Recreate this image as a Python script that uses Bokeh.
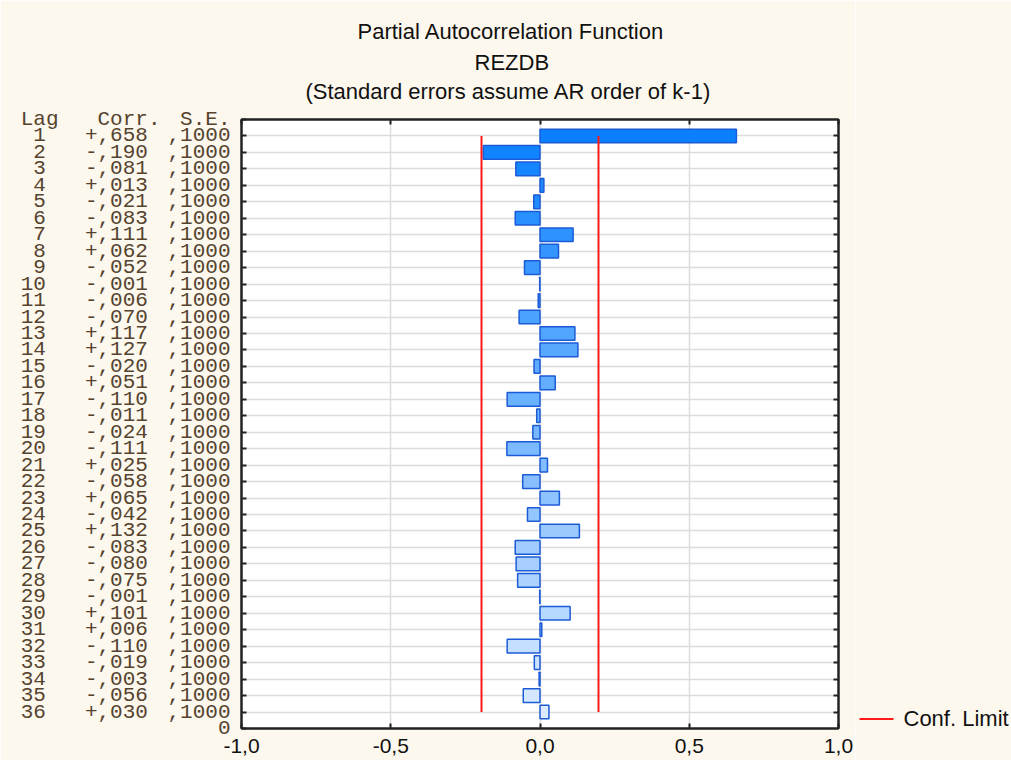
from bokeh.plotting import figure
from bokeh.models import (Range1d, LinearAxis, FixedTicker, ColumnDataSource, Title)
from bokeh.core.properties import value
from bokeh.layouts import row
from bokeh.embed import file_html
from bokeh.resources import INLINE

# ---------------- data ----------------
lags = list(range(1, 37))
pacf = [0.658, -0.190, -0.081, 0.013, -0.021, -0.083, 0.111, 0.062, -0.052, -0.001,
        -0.006, -0.070, 0.117, 0.127, -0.020, 0.051, -0.110, -0.011, -0.024, -0.111,
        0.025, -0.058, 0.065, -0.042, 0.132, -0.083, -0.080, -0.075, -0.001, 0.101,
        0.006, -0.110, -0.019, -0.003, -0.056, 0.030]
se_text = [",1000"] * 36
conf_limit = 0.196
x_ticks = [-1.0, -0.5, 0.0, 0.5, 1.0]
x_tick_labels = ["-1,0", "-0,5", "0,0", "0,5", "1,0"]
title_lines = ["Partial Autocorrelation Function", "REZDB",
               "(Standard errors assume AR order of k-1)"]
header = ["Lag", "Corr.", "S.E."]
legend_text = "Conf. Limit"

NB = "\u00a0"
corr_text = [("+" if v >= 0 else "-") + "," + "%03d" % round(abs(v) * 1000) for v in pacf]

# ---------------- layout ----------------
W, H = 1011, 760
W_MAIN = 855
FL, FR, FT, FB = 241, 838, 119, 728
Y0, Y1 = 0, 37

n = len(lags)
c0, c1 = (10, 128, 255), (220, 235, 255)
bar_colors = ["#%02x%02x%02x" % tuple(int(round(a + (b - a) * i / (n - 1))) for a, b in zip(c0, c1))
              for i in range(n)]

BG = "#fdf8ed"
TXT = "#55432f"
DARK = "#222222"
RED = "#ff1a1a"
SANS = "Liberation Sans"
MONO = "Liberation Mono"

p = figure(width=W_MAIN, height=H, output_backend="svg", toolbar_location=None,
           x_range=Range1d(-1, 1), y_range=Range1d(Y1, Y0),
           min_border_left=FL, min_border_right=W_MAIN - FR,
           min_border_top=FT, min_border_bottom=H - FB,
           background_fill_color="white", border_fill_color=BG)
p.outline_line_color = DARK
p.outline_line_width = 2


def tick_key(t):
    return int(t) if float(t).is_integer() else t


# ---------------- axes ----------------
bottom_ax = p.xaxis[0]
se_ax = p.yaxis[0]
bottom_ax.ticker = FixedTicker(ticks=x_ticks)
bottom_ax.major_label_overrides = {tick_key(t): lab for t, lab in zip(x_ticks, x_tick_labels)}
bottom_ax.major_label_text_font = SANS
bottom_ax.major_label_text_font_size = "21px"
bottom_ax.major_label_text_color = "#111111"
bottom_ax.major_label_standoff = 10

top_ax = LinearAxis(ticker=FixedTicker(ticks=x_ticks))
top_ax.major_label_overrides = {tick_key(t): "" for t in x_ticks}
top_ax.major_label_standoff = 0
right_ax = LinearAxis(ticker=FixedTicker(ticks=lags))
right_ax.major_label_overrides = {t: "" for t in lags}
right_ax.major_label_standoff = 0
p.add_layout(top_ax, "above")
p.add_layout(right_ax, "right")

for ax in [bottom_ax, top_ax, se_ax, right_ax]:
    ax.major_tick_in = 5
    ax.major_tick_out = 0
    ax.minor_tick_line_color = None
    ax.axis_line_width = 2
    ax.axis_line_color = DARK
    ax.major_tick_line_color = DARK
    ax.major_tick_line_width = 2

# invisible spacer axis: leaves a gap between the frame and the title lines
gap_ax = LinearAxis(ticker=FixedTicker(ticks=x_ticks), axis_line_color=None,
                    major_tick_line_color=None, minor_tick_line_color=None,
                    major_tick_in=0, major_tick_out=14, major_label_standoff=0,
                    major_label_overrides={tick_key(t): "" for t in x_ticks})
p.add_layout(gap_ax, "above")

# the table at the left: three stacked left axes (S.E., Corr., Lag)
se_ax.ticker = FixedTicker(ticks=[Y0] + lags + [Y1])
se_labels = {Y0: header[2], Y1: "0"}
se_labels.update({l: s for l, s in zip(lags, se_text)})
se_ax.major_label_overrides = se_labels
se_ax.major_label_standoff = 11

corr_ax = LinearAxis(ticker=FixedTicker(ticks=[Y0] + lags + [Y1]))
corr_labels = {Y0: header[1], Y1: ""}
corr_labels.update({l: c + NB for l, c in zip(lags, corr_text)})
corr_ax.major_label_overrides = corr_labels
corr_ax.major_label_standoff = 4

lag_ax = LinearAxis(ticker=FixedTicker(ticks=[Y0] + lags + [Y1]))
lag_labels = {Y0: header[0], Y1: ""}
lag_labels.update({l: str(l) + NB for l in lags})
lag_ax.major_label_overrides = lag_labels
lag_ax.major_label_standoff = 23

for ax in [corr_ax, lag_ax]:
    ax.axis_line_color = None
    ax.major_tick_line_color = None
    ax.minor_tick_line_color = None
    ax.major_tick_in = 0
    ax.major_tick_out = 0
    p.add_layout(ax, "left")

for ax in [se_ax, corr_ax, lag_ax]:
    ax.major_label_text_font = MONO
    ax.major_label_text_font_size = "21px"
    ax.major_label_text_color = TXT

# grid
p.xgrid.ticker = FixedTicker(ticks=x_ticks)
p.ygrid.ticker = FixedTicker(ticks=lags)
p.xgrid.grid_line_color = "#dcdcdc"
p.ygrid.grid_line_color = "#dcdcdc"
p.xgrid.grid_line_width = 1.5
p.ygrid.grid_line_width = 1.5

# ---------------- bars ----------------
src = ColumnDataSource(dict(lag=lags, v=pacf, color=bar_colors))
p.hbar(y="lag", left=0, right="v", height=0.83, fill_color="color",
       line_color="#1c5bd6", line_width=1.5, source=src)

# confidence limits
p.segment(x0=[-conf_limit, conf_limit], x1=[-conf_limit, conf_limit],
          y0=[lags[0], lags[0]], y1=[lags[-1], lags[-1]],
          line_color=RED, line_width=2)

# ---------------- titles (nearest the frame first) ----------------
title_starts = [357, 474, 305]
title_standoffs = [8, 0, 4]
for txt, sx, so in reversed(list(zip(title_lines, title_starts, title_standoffs))):
    p.add_layout(Title(text=txt, align="left", offset=sx - FL, text_font=SANS,
                       text_font_size="22px", text_font_style="normal",
                       text_color="#111111", standoff=so), "above")

# ---------------- legend key panel (to the right of the chart, pixel units) ----------------
WL = W - W_MAIN
pl = figure(width=WL, height=H, output_backend="svg", toolbar_location=None,
            x_range=Range1d(0, WL), y_range=Range1d(H, 0),
            x_axis_location=None, y_axis_location=None,
            min_border=0, min_border_left=0, min_border_right=0,
            min_border_top=0, min_border_bottom=0,
            background_fill_color=BG, border_fill_color=BG)
pl.grid.visible = False
pl.outline_line_color = None
key_y = 748
pl.segment(x0=[859 - W_MAIN], x1=[893 - W_MAIN], y0=[key_y], y1=[key_y],
           line_color=RED, line_width=2)
pl.text(x=[903 - W_MAIN], y=[key_y], text=[legend_text], text_align="left",
        text_baseline="middle", text_font=value(SANS), text_font_size="22px",
        text_color="#111111")

layout = row(p, pl, spacing=0)
open("out.html", "w").write(file_html(layout, INLINE))
